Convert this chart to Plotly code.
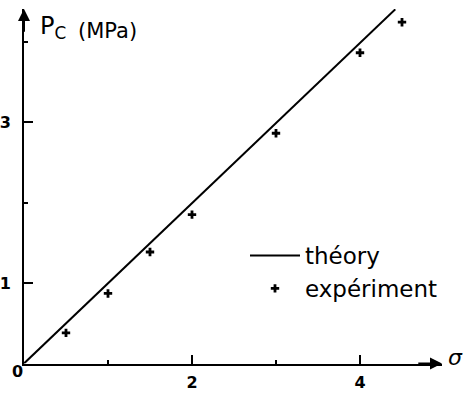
import plotly.graph_objects as go

# Data
sigma_theory = [0.0, 4.42]
pc_theory = [0.0, 4.40]

sigma_exp = [0.5, 1.0, 1.5, 2.0, 3.0, 4.0, 4.5]
pc_exp = [0.38, 0.87, 1.385, 1.85, 2.86, 3.86, 4.24]

x_major = [2, 4]
x_minor = [1, 3]
y_major = [1, 3]
y_minor = [2, 4]

W, H = 463, 394
X0, Y0 = 24, 363.5      # origin in pixels
XS, YS = 84, 80.5       # pixels per unit
X_END, Y_END = 442, 9   # arrow tips in pixels

FONT = "DejaVu Sans"

fig = go.Figure()

fig.add_trace(go.Scatter(
    x=sigma_theory, y=pc_theory, name="théory", mode="lines",
    line=dict(color="black", width=2),
))
fig.add_trace(go.Scatter(
    x=sigma_exp, y=pc_exp, name="expériment", mode="markers",
    marker=dict(symbol="cross", size=7, color="black"),
))

x_top = (X_END - X0) / XS
y_top = (Y0 - Y_END) / YS

fig.update_layout(
    width=W, height=H,
    margin=dict(l=0, r=0, t=0, b=0),
    plot_bgcolor="white", paper_bgcolor="white",
    font=dict(family=FONT, color="black"),
    xaxis=dict(
        domain=[X0 / W, X_END / W], range=[0, x_top],
        anchor="y", showgrid=False, zeroline=False,
        showline=True, linecolor="black", linewidth=2,
        tickmode="array", tickvals=x_major, ticktext=[str(v) for v in x_major],
        ticks="inside", ticklen=9, tickwidth=2, tickcolor="black",
        minor=dict(tickmode="array", tickvals=x_minor, ticks="inside",
                   ticklen=4, tickwidth=2, tickcolor="black"),
        tickfont=dict(size=16, family=FONT, weight="bold"),
        ticklabelstandoff=3,
    ),
    yaxis=dict(
        domain=[(H - Y0) / H, (H - Y_END) / H], range=[0, y_top],
        anchor="x", showgrid=False, zeroline=False,
        showline=True, linecolor="black", linewidth=2,
        tickmode="array", tickvals=y_major, ticktext=[str(v) for v in y_major],
        ticks="inside", ticklen=9, tickwidth=2, tickcolor="black",
        minor=dict(tickmode="array", tickvals=y_minor, ticks="inside",
                   ticklen=4, tickwidth=2, tickcolor="black"),
        tickfont=dict(size=16, family=FONT, weight="bold"),
        ticklabelstandoff=8,
    ),
    showlegend=True,
    legend=dict(
        x=245 / W, y=1 - 234 / H, xanchor="left", yanchor="top",
        font=dict(size=23, family=FONT), itemwidth=50,
        bgcolor="rgba(0,0,0,0)", traceorder="normal",
    ),
)

# axis arrow heads
fig.add_annotation(x=x_top, y=0, ax=x_top - 0.3, ay=0, xref="x", yref="y",
                   axref="x", ayref="y", text="", showarrow=True,
                   arrowhead=2, arrowsize=1.2, arrowwidth=2, arrowcolor="black")
fig.add_annotation(x=0, y=y_top, ax=0, ay=y_top - 0.3, xref="x", yref="y",
                   axref="x", ayref="y", text="", showarrow=True,
                   arrowhead=2, arrowsize=1.2, arrowwidth=2, arrowcolor="black")

# origin label and axis titles
fig.add_annotation(x=10 / W, y=1 - 383 / H, xref="paper", yref="paper",
                   text="0", showarrow=False,
                   font=dict(size=16, family=FONT, weight="bold"))
fig.add_annotation(x=38 / W, y=1 - 27 / H, xref="paper", yref="paper",
                   xanchor="left", yanchor="middle", showarrow=False,
                   text="P<sub>C</sub>", font=dict(size=24, family=FONT))
fig.add_annotation(x=76 / W, y=1 - 31 / H, xref="paper", yref="paper",
                   xanchor="left", yanchor="middle", showarrow=False,
                   text="(MPa)", font=dict(size=21, family=FONT))
fig.add_annotation(x=446 / W, y=1 - 357 / H, xref="paper", yref="paper",
                   xanchor="left", yanchor="middle", showarrow=False,
                   text="<i>σ</i>", font=dict(size=22, family=FONT))

# drop the browser's default page margin so the figure sits at the corner
fig.write_html("out.html", config={"displayModeBar": False},
               post_script="document.body.style.margin='0px';")
